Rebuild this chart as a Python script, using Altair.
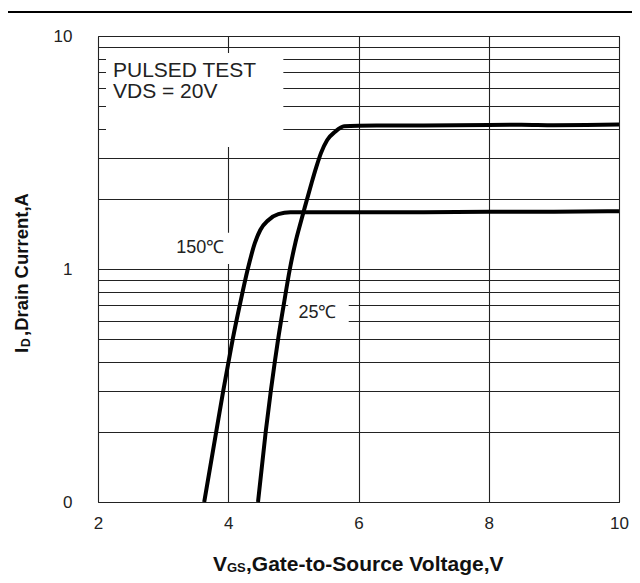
import altair as alt
import pandas as pd

# ---- data ----
vgs_25 = [4.457, 4.575, 4.654, 4.715, 4.766, 4.851, 4.946, 5.032, 5.089, 5.166, 5.272, 5.354, 5.425, 5.52,
          5.64, 5.78, 6.0, 6.5, 7.0, 7.5, 8.0, 8.5, 9.0, 9.5, 10.0]
id_25 = [0.10, 0.20, 0.30, 0.40, 0.50, 0.70, 1.00, 1.30, 1.50, 1.80, 2.30, 2.75, 3.15, 3.58, 3.88, 4.10,
         4.12, 4.13, 4.13, 4.14, 4.15, 4.16, 4.14, 4.15, 4.17]

vgs_150 = [3.631, 3.815, 3.923, 4.005, 4.069, 4.177, 4.30, 4.408, 4.492, 4.615, 4.769, 4.954,
           5.5, 6.0, 7.0, 8.0, 9.0, 10.0]
id_150 = [0.10, 0.20, 0.30, 0.40, 0.50, 0.70, 1.00, 1.29, 1.47, 1.62, 1.72, 1.75,
          1.75, 1.75, 1.75, 1.76, 1.76, 1.77]

x_ticks = [2, 4, 6, 8, 10]
y_ticks = [0.1, 0.2, 0.3, 0.4, 0.5, 0.6, 0.7, 0.8, 0.9,
           1, 2, 3, 4, 5, 6, 7, 8, 9, 10]

# white label boxes (data coordinates)
box_x0 = [2.123, 3.00, 4.92]
box_x1 = [4.846, 4.05, 5.85]
box_y0 = [3.34, 1.05, 0.565]
box_y1 = [8.45, 1.43, 0.75]

note_text = ["PULSED TEST", "VDS = 20V"]
note_x = [2.23, 2.23]
note_y = [6.68, 5.41]

temp_text = ["150℃", "25℃"]
temp_x = [3.57, 5.37]
temp_y = [1.23, 0.647]

FONT = "Liberation Sans"

curves = pd.DataFrame({
    "vgs": vgs_25 + vgs_150,
    "id": id_25 + id_150,
    "temp": ["25"] * len(vgs_25) + ["150"] * len(vgs_150),
})
boxes = pd.DataFrame({"x0": box_x0, "x1": box_x1, "y0": box_y0, "y1": box_y1})
notes = pd.DataFrame({"t": note_text, "x": note_x, "y": note_y})
temps = pd.DataFrame({"t": temp_text, "x": temp_x, "y": temp_y})

X_SCALE = alt.Scale(domain=[2, 10], nice=False, zero=False)
Y_SCALE = alt.Scale(type="log", domain=[0.1, 10], nice=False)

X_AX = alt.Axis(values=x_ticks, grid=True, gridColor="#222", gridWidth=1.1, ticks=False, domain=False,
                labelFontSize=17, labelFont=FONT, labelColor="#222", labelPadding=13, labelFlush=False,
                title=None, labelOverlap=False)
Y_AX = alt.Axis(values=y_ticks, grid=True, gridColor="#222", gridWidth=1.1, ticks=False, domain=False,
                labelFontSize=17, labelFont=FONT, labelColor="#222", labelPadding=26, labelFlush=False,
                labelExpr="datum.value == 10 ? '10' : datum.value == 1 ? '1' : datum.value < 0.11 ? '0' : ''",
                labelBaseline="middle", title=None, labelOverlap=False)

rects = alt.Chart(boxes).mark_rect(color="white").encode(
    x=alt.X("x0:Q", scale=X_SCALE, axis=X_AX),
    x2="x1:Q",
    y=alt.Y("y0:Q", scale=Y_SCALE, axis=Y_AX),
    y2="y1:Q",
)

lines = alt.Chart(curves).mark_line(color="black", strokeWidth=4, interpolate="monotone").encode(
    x=alt.X("vgs:Q", scale=X_SCALE, axis=X_AX),
    y=alt.Y("id:Q", scale=Y_SCALE, axis=Y_AX),
    detail="temp:N",
)

note_marks = alt.Chart(notes).mark_text(align="left", baseline="alphabetic", fontSize=21, font=FONT,
                                        color="#222").encode(
    x=alt.X("x:Q", scale=X_SCALE, axis=X_AX),
    y=alt.Y("y:Q", scale=Y_SCALE, axis=Y_AX),
    text="t:N",
)

temp_marks = alt.Chart(temps).mark_text(align="center", baseline="middle", fontSize=18, font=FONT,
                                        color="#222").encode(
    x=alt.X("x:Q", scale=X_SCALE, axis=X_AX),
    y=alt.Y("y:Q", scale=Y_SCALE, axis=Y_AX),
    text="t:N",
)


def label(s, x, y, size, angle=0, weight="bold"):
    return alt.Chart(alt.Data(values=[{"k": 1}])).mark_text(
        text=s, align="left", baseline="alphabetic", fontSize=size, font=FONT, fontWeight=weight,
        color="#111", angle=angle,
    ).encode(x=alt.value(x), y=alt.value(y))


title_parts = [
    label("V", 115, 535, 21),
    label("GS", 129, 536, 13),
    label(",Gate-to-Source Voltage,V", 148, 535, 21),
    label("I", -70, 317, 18.5, angle=270),
    label("D", -68, 311, 12, angle=270),
    label(",Drain Current,A", -70, 300, 18.5, angle=270),
]

header = alt.Chart(alt.Data(values=[{"k": 1}])).mark_rule(color="black", strokeWidth=2, clip=False).encode(
    x=alt.value(-90), x2=alt.value(534), y=alt.value(-24)
)

chart = alt.layer(rects, lines, note_marks, temp_marks, *title_parts, header).properties(
    width=521, height=466,
    autosize=alt.AutoSizeParams(type="none"),
    padding={"left": 90, "top": 28, "right": 13, "bottom": 73},
).configure_view(stroke="#222", strokeWidth=1)

chart.save("out.html", embed_options={"renderer": "svg", "actions": False})
